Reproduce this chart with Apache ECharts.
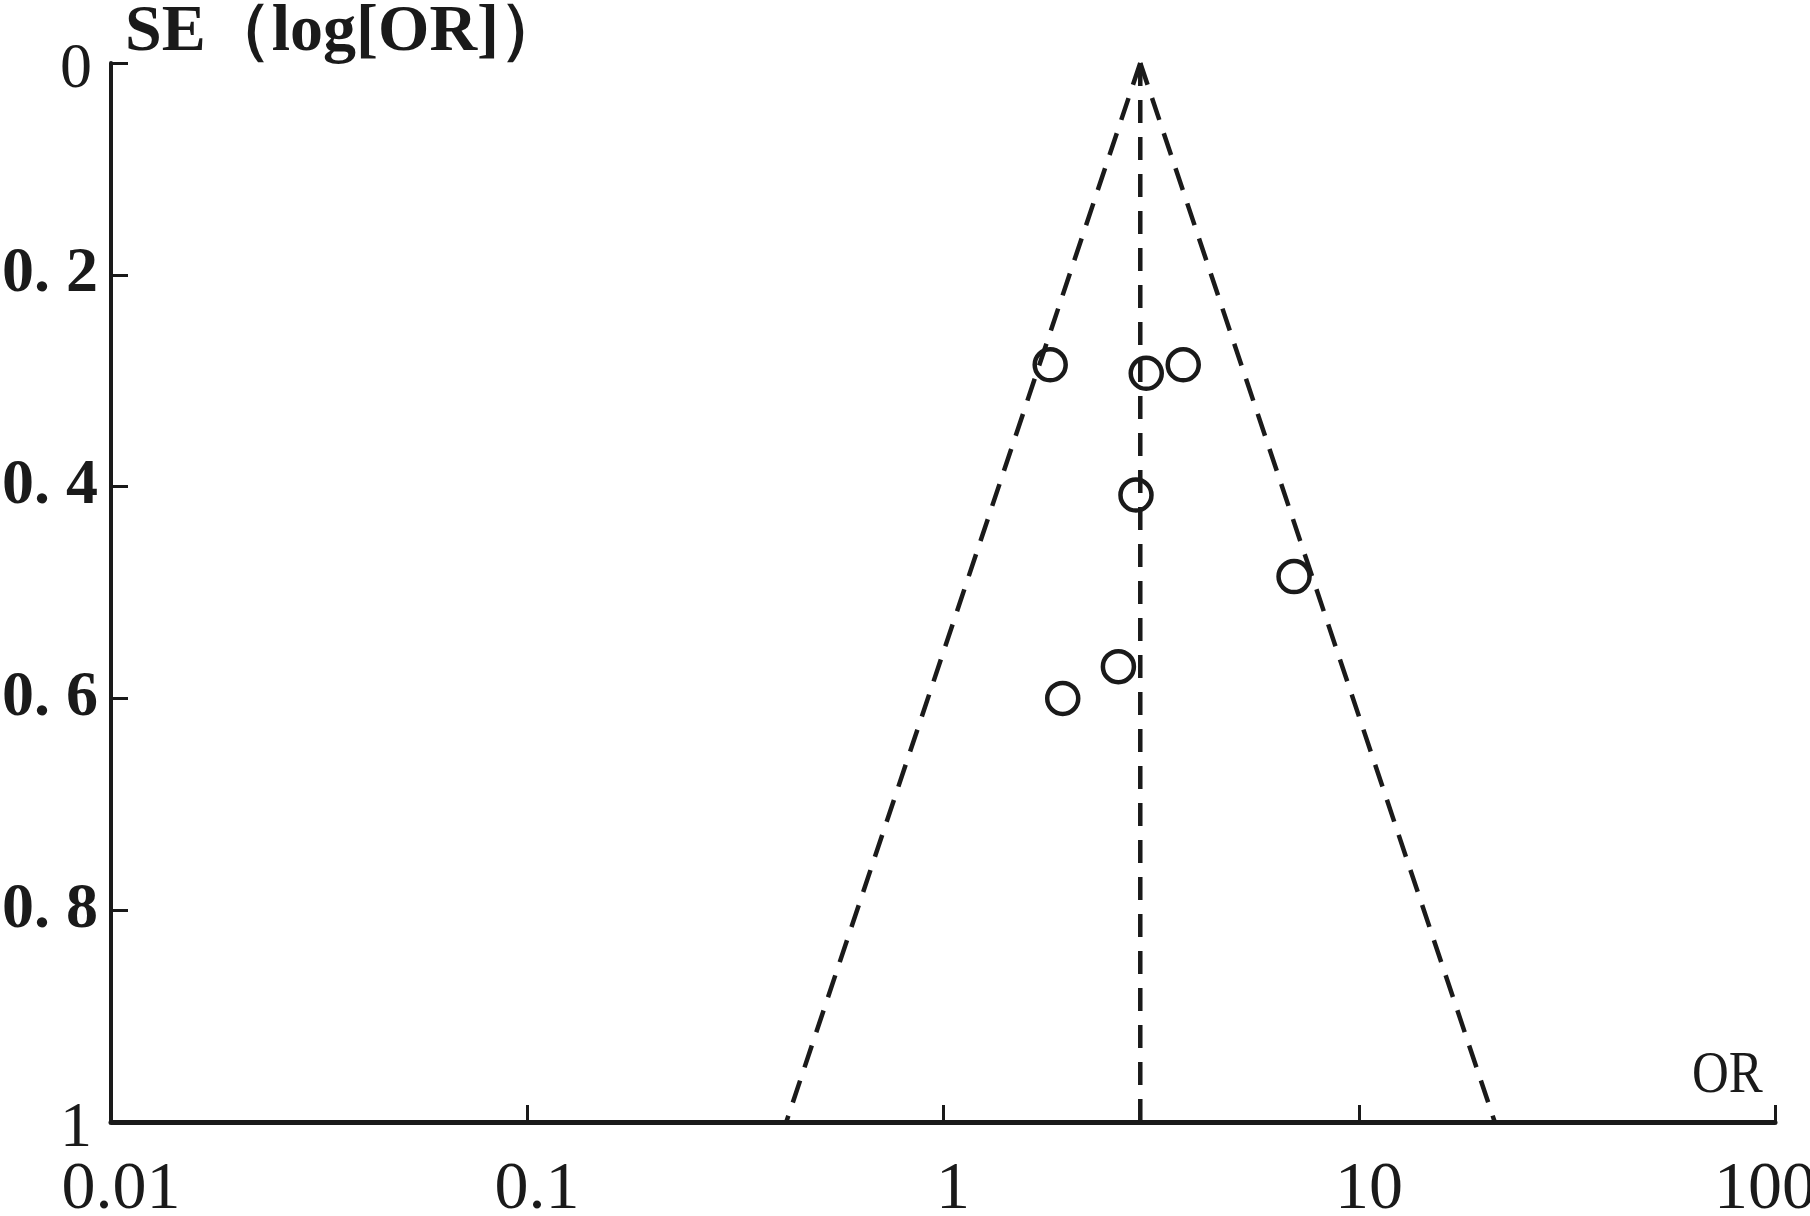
<!DOCTYPE html>
<html>
<head>
<meta charset="utf-8">
<script src="https://cdn.jsdelivr.net/npm/echarts@6/dist/echarts.min.js"></script>
<style>html,body{margin:0;padding:0;background:#fff;}#chart{width:1810px;height:1216px;}</style>
</head>
<body>
<div id="chart"></div>
<script>
// Study points: odds ratio and standard error of log(OR)
const studyOR = [1.81, 3.08, 3.78, 2.91, 6.98, 2.64, 1.94];
const studySE = [0.285, 0.293, 0.285, 0.408, 0.485, 0.570, 0.600];
// Pooled estimate and funnel limits (OR at SE = 0 and SE = 1)
const pooledOR = 2.98;
const funnelSE = [0, 1];
const funnelLeftOR = [2.98, 0.42];
const funnelRightOR = [2.98, 21.2];
// Tick labels
const xTickValues = [0.01, 0.1, 1, 10, 100];
const xTickLabels = ['0.01', '0.1', '1', '10', '100'];
const yTickValues = [0, 0.2, 0.4, 0.6, 0.8, 1];
const yTickLabels = ['0', '0. 2', '0. 4', '0. 6', '0. 8', '1'];
const yTitle = 'SE（log[OR]）';
const xTitle = 'OR';

const ink = '#1a1a1a';
const chart = echarts.init(document.getElementById('chart'));

const pts = studyOR.map((v, i) => [v, studySE[i]]);
const left = funnelSE.map((s, i) => [funnelLeftOR[i], s]);
const right = funnelSE.map((s, i) => [funnelRightOR[i], s]);
const mid = funnelSE.map(s => [pooledOR, s]);

function findLabel(vals, labels, v) {
  for (let i = 0; i < vals.length; i++) {
    if (Math.abs(vals[i] - v) < 1e-6 * Math.max(1, Math.abs(vals[i]))) return labels[i];
  }
  return '';
}

const dashed = { color: ink, width: 4.5, type: [23, 14], opacity: 1 };
const xFont = { fontFamily: 'Liberation Serif', fontSize: 68, color: ink };

chart.setOption({
  animation: false,
  backgroundColor: '#fff',
  grid: { left: 111, right: 35, top: 63, bottom: 94, containLabel: false, outerBoundsMode: 'none' },
  xAxis: {
    type: 'log', logBase: 10, min: 0.01, max: 100, position: 'bottom',
    axisLine: { show: true, onZero: false, lineStyle: { color: ink, width: 5 } },
    axisTick: { show: true, inside: true, length: 17, lineStyle: { color: ink, width: 3 } },
    splitLine: { show: false },
    axisLabel: {
      show: true, margin: 34, color: ink,
      showMinLabel: true, showMaxLabel: true,
      formatter: v => {
        const t = findLabel(xTickValues, xTickLabels, v);
        return v >= 100 ? '{e|' + t + '}' : '{r|' + t + '}';
      },
      rich: {
        r: Object.assign({ padding: [0, 0, 0, 20] }, xFont),
        e: Object.assign({ padding: [0, 20, 0, 0] }, xFont)
      }
    }
  },
  yAxis: {
    type: 'value', inverse: true, min: 0, max: 1, interval: 0.2,
    axisLine: { show: true, onZero: false, lineStyle: { color: ink, width: 4 } },
    axisTick: { show: true, inside: true, length: 17, lineStyle: { color: ink, width: 3 } },
    splitLine: { show: false },
    axisLabel: {
      show: true, margin: 13, align: 'right', color: ink,
      showMinLabel: true, showMaxLabel: true,
      formatter: v => {
        const t = findLabel(yTickValues, yTickLabels, v);
        return (v === 0 || v === 1) ? '{a|' + t + '}' : '{b|' + t + '}';
      },
      rich: {
        a: { fontFamily: 'Liberation Serif', fontSize: 64, color: ink, padding: [14, 6, 0, 0] },
        b: { fontFamily: 'Liberation Serif', fontWeight: 'bold', fontSize: 64, color: ink }
      }
    }
  },
  graphic: [
    { type: 'text', left: 125, top: 0, style: { text: yTitle, font: 'bold 66px "Liberation Serif"', fill: ink } },
    { type: 'text', left: 1692, top: 1046, scaleX: 0.85, style: { text: xTitle, font: '60px "Liberation Serif"', fill: ink } }
  ],
  series: [
    { type: 'line', data: left, symbol: 'none', lineStyle: dashed, clip: false, silent: true },
    { type: 'line', data: right, symbol: 'none', lineStyle: dashed, clip: false, silent: true },
    { type: 'line', data: mid, symbol: 'none', lineStyle: dashed, clip: false, silent: true },
    {
      type: 'scatter', data: pts, symbol: 'circle', symbolSize: 31,
      itemStyle: { color: 'rgba(0,0,0,0)', borderColor: ink, borderWidth: 4.5, opacity: 1 },
      z: 5
    }
  ]
});
</script>
</body>
</html>
